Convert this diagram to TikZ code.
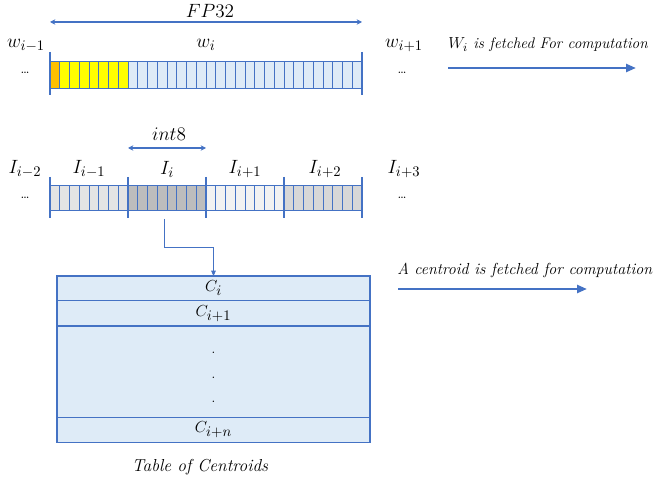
\documentclass[tikz,border=0pt]{standalone}
\usepackage{tikz}
\usetikzlibrary{arrows.meta, positioning, calc}
\DeclareMathSizes{13.5}{13.5}{11}{9}
\DeclareMathSizes{12.5}{12.5}{10.5}{8}
\DeclareMathSizes{11.5}{11.5}{9.5}{7}
\definecolor{lineBlue}{HTML}{4472C4}
\definecolor{cellBlue}{HTML}{DEEBF7}
\definecolor{cellYellow}{HTML}{FFFF00}
\definecolor{cellOrange}{HTML}{FFC000}
\definecolor{idxA}{HTML}{E4E4E4}
\definecolor{idxB}{HTML}{BDBDBD}
\definecolor{idxC}{HTML}{F2F2F2}
\definecolor{idxD}{HTML}{D7D7D7}
\tikzset{
  arrowW/.style={{Stealth[length=4pt, width=4pt]}-{Stealth[length=4pt, width=4pt]}, lineBlue, line width=0.9pt},
  arrowF/.style={-{Triangle[length=7.5pt, width=6pt]}, lineBlue, line width=1.8pt},
  arrowT/.style={-{Triangle[length=4pt, width=3.5pt]}, lineBlue, line width=0.7pt},
  cell/.style={draw=lineBlue, line width=0.5pt},
  sepline/.style={lineBlue, line width=1.3pt},
  lbl/.style={font=\fontsize{13.5}{15}\selectfont, inner sep=1pt},
  note/.style={font=\fontsize{11.5}{13}\selectfont\itshape, anchor=west, inner sep=0pt},
  rowbox/.style={rectangle, draw=lineBlue, fill=cellBlue, line width=0.8pt,
                 minimum width=234.75pt, inner sep=0pt, outer sep=0pt,
                 font=\fontsize{12.5}{14}\selectfont},
}
\begin{document}
\begin{tikzpicture}[x=0.75pt, y=-0.75pt]
    \useasboundingbox (0,0) rectangle (664,481);
    % FP32 weights
    \draw[cell, fill=cellOrange] (50,61) rectangle ++(9.75,27);
    \foreach \k in {1,...,7}
      \draw[cell, fill=cellYellow] ({50+9.75*\k},61) rectangle ++(9.75,27);
    \foreach \k in {8,...,31}
      \draw[cell, fill=cellBlue] ({50+9.75*\k},61) rectangle ++(9.75,27);
    \foreach \x in {50,362}
      \draw[sepline] (\x,52) -- (\x,95);
    \coordinate (fpL) at (50,22);
    \coordinate (fpR) at (362,22);
    \draw[arrowW] (fpL) -- (fpR);
    \node[lbl] (fplbl) at (210,11) {$FP32$};
    \node[lbl] (wprev) at (26,45) {$w_{i-1}$};
    \node[lbl] (wcur) at (206,45) {$w_i$};
    \node[lbl] (wnext) at (404,45) {$w_{i+1}$};
    \node (wdotsL) at (25,73) {\dots};
    \node (wdotsR) at (402,73) {\dots};
    \node[note] (wfetch) at (448,45) {$W_i$ is fetched For computation};
    \coordinate (wfA) at (448,68);
    \coordinate (wfB) at (636,68);
    \draw[arrowF] (wfA) -- (wfB);

    % int8 indices
    \foreach \g/\col in {0/idxA,1/idxB,2/idxC,3/idxD}
      \foreach \k in {0,...,7}
        \draw[cell, fill=\col] ({50+78*\g+9.75*\k},185) rectangle ++(9.75,25);
    \foreach \x in {50,128,206,284,362}
      \draw[sepline] (\x,177) -- (\x,218);
    \coordinate (i8L) at (128,148);
    \coordinate (i8R) at (206,148);
    \draw[arrowW] (i8L) -- (i8R);
    \node[lbl] (i8lbl) at (169,134) {$int8$};
    \node[lbl] (im2) at (25,169) {$I_{i-2}$};
    \node[lbl] (im1) at (89,169) {$I_{i-1}$};
    \node[lbl] (icur) at (167,169) {$I_i$};
    \node[lbl] (ip1) at (245,169) {$I_{i+1}$};
    \node[lbl] (ip2) at (325,169) {$I_{i+2}$};
    \node[lbl] (ip3) at (404,169) {$I_{i+3}$};
    \node (idotsL) at (25,198) {\dots};
    \node (idotsR) at (402,198) {\dots};

    % table of centroids
    \node[rowbox, minimum height=18.4pt, anchor=north west] (rowi) at (57,276) {$C_i$};
    \node[rowbox, minimum height=19.1pt, below=0pt of rowi] (rowi1) {$C_{i+1}$};
    \node[rowbox, minimum height=68.3pt, below=0pt of rowi1] (rowdots) {};
    \node[rowbox, minimum height=18.8pt, below=0pt of rowdots] (rown) {$C_{i+n}$};
    \foreach \k/\yy in {1/353,2/378,3/402}
      \node[inner sep=0pt] (vd\k) at (213.5,\yy) {.};
    \node[note, anchor=center, font=\fontsize{13}{15}\selectfont\itshape] (tabcap) at (200,467) {Table of Centroids};

    \coordinate (ifetch) at (164,219);
    \coordinate (elbow) at (164,247);
    \draw[arrowT] (ifetch) -- (elbow) -| (rowi.north);

    \node[note, font=\fontsize{12}{14}\selectfont\itshape] (cfetch) at (397,270) {A centroid is fetched for computation};
    \coordinate (cfA) at (398,289);
    \coordinate (cfB) at (587,289);
    \draw[arrowF] (cfA) -- (cfB);
\end{tikzpicture}
\end{document}
